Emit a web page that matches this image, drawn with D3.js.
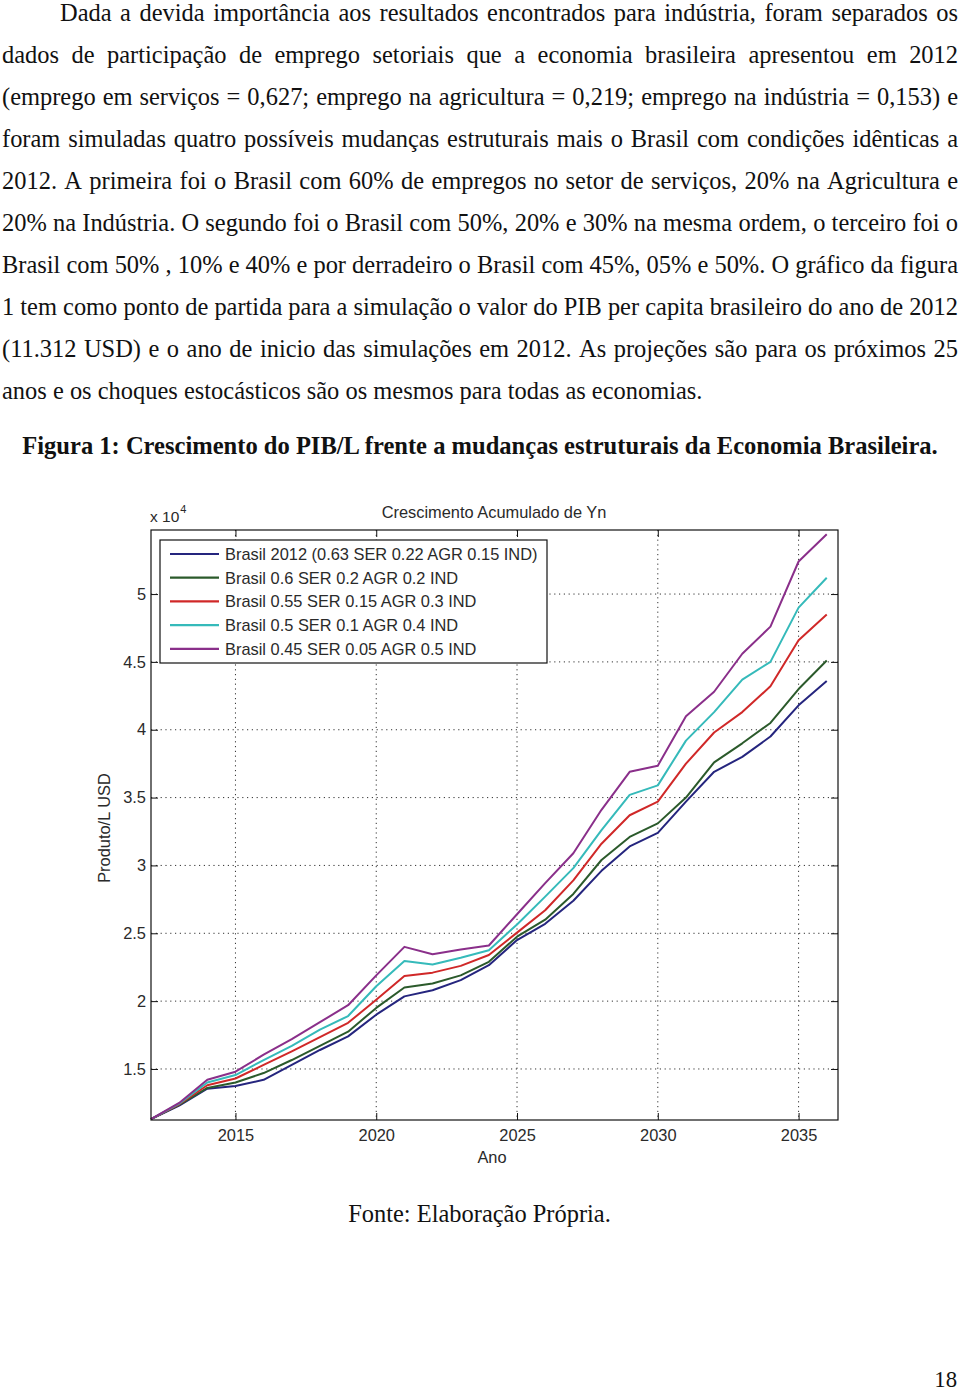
<!DOCTYPE html>
<html><head><meta charset="utf-8">
<script src="https://cdn.jsdelivr.net/npm/d3@7/dist/d3.min.js"></script>
<style>html,body{margin:0;padding:0;background:#fff;}svg{display:block;}</style>
</head><body>
<script>
// ---- Data (values in units of 10^4 USD) ----
const years = [2012,2013,2014,2015,2016,2017,2018,2019,2020,2021,2022,2023,2024,2025,2026,2027,2028,2029,2030,2031,2032,2033,2034,2035,2036];
const seriesNames = [
  "Brasil 2012 (0.63 SER 0.22 AGR 0.15 IND)",
  "Brasil 0.6 SER 0.2 AGR 0.2 IND",
  "Brasil 0.55 SER 0.15 AGR 0.3 IND",
  "Brasil 0.5 SER 0.1 AGR 0.4 IND",
  "Brasil 0.45 SER 0.05 AGR 0.5 IND"
];
const brasil2012 = [1.131,1.230,1.355,1.375,1.420,1.530,1.640,1.740,1.900,2.035,2.080,2.155,2.265,2.450,2.570,2.740,2.960,3.140,3.240,3.470,3.690,3.800,3.950,4.180,4.360];
const brasil060  = [1.131,1.235,1.360,1.400,1.470,1.566,1.670,1.775,1.950,2.100,2.130,2.190,2.290,2.475,2.600,2.790,3.040,3.210,3.310,3.500,3.760,3.900,4.050,4.300,4.510];
const brasil055  = [1.131,1.240,1.380,1.430,1.530,1.630,1.735,1.840,2.010,2.185,2.210,2.260,2.340,2.505,2.670,2.890,3.160,3.370,3.470,3.750,3.980,4.130,4.320,4.660,4.850];
const brasil050  = [1.131,1.245,1.400,1.455,1.566,1.670,1.790,1.890,2.110,2.295,2.270,2.320,2.375,2.565,2.770,2.980,3.260,3.520,3.590,3.920,4.130,4.370,4.500,4.900,5.120];
const brasil045  = [1.131,1.250,1.420,1.480,1.605,1.720,1.845,1.970,2.190,2.400,2.345,2.380,2.410,2.640,2.870,3.090,3.410,3.690,3.735,4.100,4.280,4.560,4.760,5.240,5.440];
const seriesValues = [brasil2012, brasil060, brasil055, brasil050, brasil045];
const seriesColors = ["#25257e","#2b5a2b","#d02828","#35baba","#8a2f8a"];
const xTicks = [2015,2020,2025,2030,2035];
const yTicks = [1.5,2,2.5,3,3.5,4,4.5,5];
const yTickLabels = ["1.5","2","2.5","3","3.5","4","4.5","5"];

const paragraphLines = [
  "Dada a devida importância aos resultados encontrados para indústria, foram separados os",
  "dados de participação de emprego setoriais que a economia brasileira apresentou em 2012",
  "(emprego em serviços = 0,627; emprego na agricultura = 0,219; emprego na indústria = 0,153) e",
  "foram simuladas quatro possíveis mudanças estruturais mais o Brasil com condições idênticas a",
  "2012. A primeira foi o Brasil com 60% de empregos no setor de serviços, 20% na Agricultura e",
  "20% na Indústria. O segundo foi o Brasil com 50%, 20% e 30% na mesma ordem, o terceiro foi o",
  "Brasil com 50% , 10% e 40% e por derradeiro o Brasil com 45%, 05% e 50%. O gráfico da figura",
  "1 tem como ponto de partida para a simulação o valor do PIB per capita brasileiro do ano de 2012",
  "(11.312 USD) e o ano de inicio das simulações em 2012. As projeções são para os próximos 25",
  "anos e os choques estocásticos são os mesmos para todas as economias."
];
const captionText = "Figura 1: Crescimento do PIB/L frente a mudanças estruturais da Economia Brasileira.";
const sourceText = "Fonte: Elaboração Própria.";
const pageNumber = "18";
const chartTitle = "Crescimento Acumulado de Yn";
const xLabel = "Ano";
const yLabel = "Produto/L USD";

// ---- Page ----
const W = 960, H = 1392;
const svg = d3.select("body").append("svg").attr("width", W).attr("height", H);
svg.append("rect").attr("width", W).attr("height", H).attr("fill", "#fff");

const serif = "'Liberation Serif','Times New Roman',serif";
const sans = "'Liberation Sans',Arial,sans-serif";

function measure(str, size, weight, family) {
  const t = svg.append("text").attr("font-family", family).attr("font-size", size)
    .attr("font-weight", weight || "normal").text(str);
  const w = t.node().getComputedTextLength();
  t.remove();
  return w;
}

// body font size fitted from the un-justified last line
const lastLine = paragraphLines[paragraphLines.length - 1];
const bodySize = 20 * 701 / measure(lastLine, 20, "normal", serif);

const textG = svg.append("g").attr("font-family", serif).attr("font-size", bodySize).attr("fill", "#111");
paragraphLines.forEach((line, i) => {
  const baseline = 20.5 + 42.1 * i;
  const x0 = i === 0 ? 60 : 2;
  const x1 = 958;
  const words = line.split(" ");
  const widths = words.map(w => measure(w, bodySize, "normal", serif));
  const isLast = i === paragraphLines.length - 1;
  const spaceW = measure("a b", bodySize, "normal", serif) - measure("ab", bodySize, "normal", serif);
  const gap = isLast ? spaceW : (x1 - x0 - d3.sum(widths)) / (words.length - 1);
  let x = x0;
  words.forEach((w, j) => {
    textG.append("text").attr("x", x).attr("y", baseline).text(w);
    x += widths[j] + gap;
  });
});

const capSize = 20 * 916 / measure(captionText, 20, "bold", serif);
svg.append("text").attr("x", 480).attr("y", 454).attr("text-anchor", "middle")
  .attr("font-family", serif).attr("font-weight", "bold").attr("font-size", capSize)
  .attr("fill", "#111").text(captionText);

svg.append("text").attr("x", 479.5).attr("y", 1222).attr("text-anchor", "middle")
  .attr("font-family", serif).attr("font-size", bodySize).attr("fill", "#111").text(sourceText);

svg.append("text").attr("x", 957).attr("y", 1386.5).attr("text-anchor", "end")
  .attr("font-family", serif).attr("font-size", bodySize * 0.93).attr("fill", "#111").text(pageNumber);

// ---- Chart ----
const plot = {left: 151, right: 838, top: 530, bottom: 1120};
const x = d3.scaleLinear().domain([2012, 2036.4]).range([plot.left, plot.right]);
const y = d3.scaleLinear().domain([1.124, 5.472]).range([plot.bottom, plot.top]);
const ink = "#2a2a2a";
const fs = 16.4;
const chart = svg.append("g").attr("font-family", sans).attr("fill", ink);

// grid
const grid = chart.append("g").attr("stroke", "#333").attr("stroke-width", 1)
  .attr("stroke-dasharray", "1.2,3.6").attr("fill", "none");
xTicks.forEach(t => grid.append("line").attr("x1", x(t)).attr("x2", x(t))
  .attr("y1", plot.top).attr("y2", plot.bottom));
yTicks.forEach(t => grid.append("line").attr("y1", y(t)).attr("y2", y(t))
  .attr("x1", plot.left).attr("x2", plot.right));

// axes with D3 axis generators, inward ticks
const tickLen = 7;
const gx = chart.append("g").attr("transform", `translate(0,${plot.bottom})`)
  .call(d3.axisBottom(x).tickValues(xTicks).tickFormat(d3.format("d")).tickSize(-tickLen).tickPadding(tickLen + 2));
const gxTop = chart.append("g").attr("transform", `translate(0,${plot.top})`)
  .call(d3.axisTop(x).tickValues(xTicks).tickFormat("").tickSize(-tickLen));
const gy = chart.append("g").attr("transform", `translate(${plot.left},0)`)
  .call(d3.axisLeft(y).tickValues(yTicks).tickFormat((d, i) => yTickLabels[i]).tickSize(-tickLen).tickPadding(0));
const gyR = chart.append("g").attr("transform", `translate(${plot.right},0)`)
  .call(d3.axisRight(y).tickValues(yTicks).tickFormat("").tickSize(-tickLen));
[gx, gxTop, gy, gyR].forEach(g => {
  g.select(".domain").remove();
  g.selectAll(".tick line").attr("stroke", "#111").attr("stroke-width", 1);
  g.selectAll(".tick text").attr("font-family", sans).attr("font-size", fs).attr("fill", ink);
});
gy.selectAll(".tick text").attr("x", -5);

// series lines
const lineGen = d3.line().x((d, i) => x(years[i])).y(d => y(d));
const linesG = chart.append("g").attr("fill", "none");
seriesValues.forEach((vals, k) => {
  linesG.append("path").attr("d", lineGen(vals)).attr("stroke", seriesColors[k])
    .attr("stroke-width", 2).attr("stroke-linejoin", "round");
});

// frame
chart.append("rect").attr("x", plot.left).attr("y", plot.top)
  .attr("width", plot.right - plot.left).attr("height", plot.bottom - plot.top)
  .attr("fill", "none").attr("stroke", "#111").attr("stroke-width", 1.2);

// legend
const leg = chart.append("g");
leg.append("rect").attr("x", 160).attr("y", 540).attr("width", 387).attr("height", 123)
  .attr("fill", "#fff").attr("stroke", "#111").attr("stroke-width", 1.2);
seriesNames.forEach((name, k) => {
  const yy = 554 + k * 23.7;
  leg.append("line").attr("x1", 170).attr("x2", 219).attr("y1", yy).attr("y2", yy)
    .attr("stroke", seriesColors[k]).attr("stroke-width", 2.2);
  leg.append("text").attr("x", 225).attr("y", yy).attr("dy", "0.36em")
    .attr("font-size", fs).attr("fill", ink).text(name);
});

// title, labels, exponent
chart.append("text").attr("x", 494).attr("y", 518).attr("text-anchor", "middle")
  .attr("font-size", fs).text(chartTitle);
chart.append("text").attr("x", 492).attr("y", 1163).attr("text-anchor", "middle")
  .attr("font-size", fs).text(xLabel);
chart.append("text").attr("transform", "translate(110,828) rotate(-90)").attr("text-anchor", "middle")
  .attr("font-size", fs).text(yLabel);
const expo = chart.append("text").attr("x", 150).attr("y", 522).attr("font-size", 15.5);
expo.append("tspan").text("x 10");
expo.append("tspan").attr("dy", -9).attr("dx", 1).attr("font-size", 11).text("4");
</script>
</body></html>
